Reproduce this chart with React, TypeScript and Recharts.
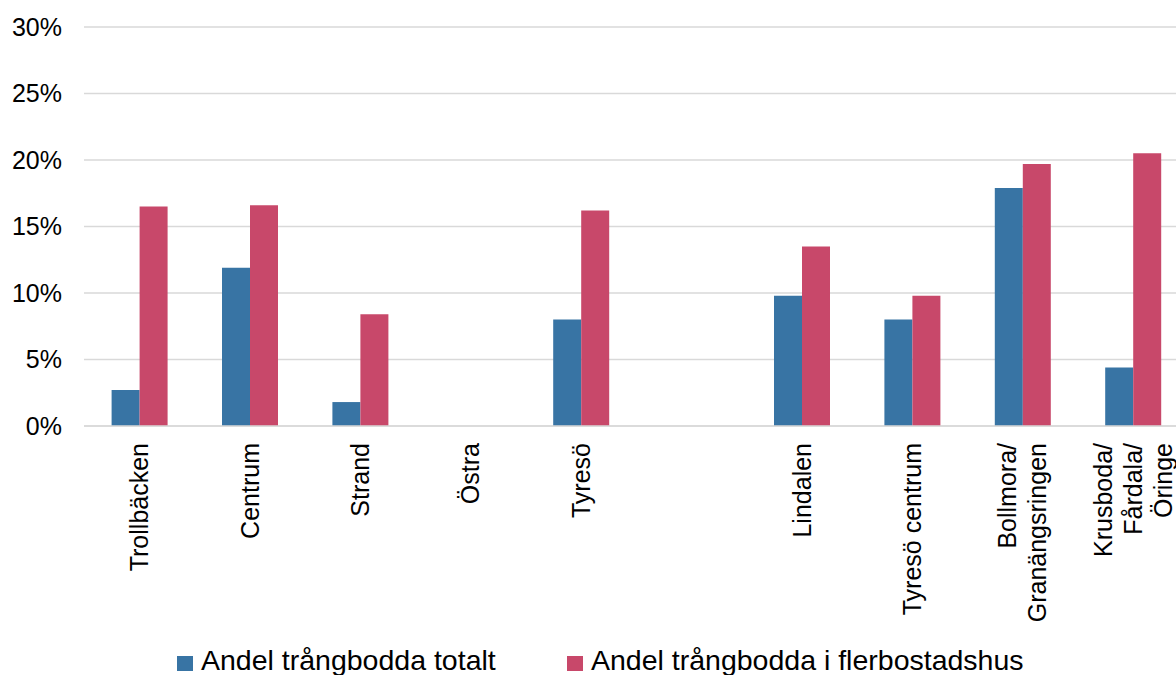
import React from 'react';
import { BarChart, Bar, XAxis, YAxis, CartesianGrid, Legend } from 'recharts';

// Areas in display order; an empty slot keeps the gap between the two groups
const areas: string[] = [
    'Trollbäcken',
    'Centrum',
    'Strand',
    'Östra',
    'Tyresö',
    '',
    'Lindalen',
    'Tyresö centrum',
    'Bollmora/\nGranängsringen',
    'Krusboda/\nFårdala/\nÖringe',
];

// Share of crowded households, per cent
const totalShare: (number | null)[] = [2.7, 11.9, 1.8, null, 8.0, null, 9.8, 8.0, 17.9, 4.4];
const apartmentShare: (number | null)[] = [16.5, 16.6, 8.4, null, 16.2, null, 13.5, 9.8, 19.7, 20.5];

const yTicks: number[] = [0, 5, 10, 15, 20, 25, 30];

const seriesNames = ['Andel trångbodda totalt', 'Andel trångbodda i flerbostadshus'];
const seriesColors = ['#3874A4', '#C8486A'];

const data = areas.map((area, i) => ({
    area,
    total: totalShare[i],
    apartments: apartmentShare[i],
}));

const FONT = '"Liberation Sans", Arial, sans-serif';

const AreaTick = (props: any) => {
    const { x, y, payload } = props;
    const lines: string[] = String(payload.value).split('\n');
    const lineHeight = 30;
    return (
        <g>
            {lines.map((line, i) => {
                const cx = x + (i - (lines.length - 1) / 2) * lineHeight;
                return (
                    <text
                        key={i}
                        transform={`translate(${cx}, ${y + 15}) rotate(-90)`}
                        textAnchor="end"
                        dy="0.36em"
                        fontSize={25}
                        fontFamily={FONT}
                        fill="#000"
                    >
                        {line}
                    </text>
                );
            })}
        </g>
    );
};

// left edge of each legend entry
const legendLeft = [177, 567];

const LegendContent = () => (
    <div style={{ position: 'relative', fontFamily: FONT, fontSize: 28.5, color: '#000', whiteSpace: 'nowrap' }}>
        {seriesNames.map((name, i) => (
            <div key={name} style={{ position: 'absolute', left: legendLeft[i], top: 0, display: 'flex', alignItems: 'center' }}>
                <span style={{ display: 'inline-block', width: 16, height: 15, background: seriesColors[i], marginRight: 8, marginTop: 5 }} />
                <span>{name}</span>
            </div>
        ))}
    </div>
);

export default function App() {
    return (
        <div style={{ position: 'fixed', left: 0, top: 0, width: 1176, height: 675, overflow: 'hidden', background: '#fff' }}>
            <BarChart
                width={1188}
                height={675}
                data={data}
                margin={{ top: 27, right: 0, left: 0, bottom: 0 }}
                barCategoryGap="25%"
                barGap={0}
            >
                <CartesianGrid vertical={false} stroke="#D9D9D9" strokeWidth={1.5} />
                <XAxis
                    dataKey="area"
                    interval={0}
                    height={249}
                    tickLine={false}
                    tickSize={0}
                    axisLine={{ stroke: '#D9D9D9', strokeWidth: 1.5 }}
                    tick={<AreaTick />}
                />
                <YAxis
                    width={84}
                    domain={[0, 30]}
                    ticks={yTicks}
                    tickFormatter={(v: number) => `${v}%`}
                    axisLine={false}
                    tickLine={false}
                    tickSize={0}
                    tickMargin={22}
                    tick={{ fill: '#000', fontSize: 25, fontFamily: FONT }}
                />
                <Legend
                    content={<LegendContent />}
                    wrapperStyle={{ position: 'absolute', top: 644, left: 0, width: 1176, height: 0 }}
                />
                <Bar dataKey="total" name={seriesNames[0]} fill={seriesColors[0]} isAnimationActive={false} />
                <Bar dataKey="apartments" name={seriesNames[1]} fill={seriesColors[1]} isAnimationActive={false} />
            </BarChart>
        </div>
    );
}
